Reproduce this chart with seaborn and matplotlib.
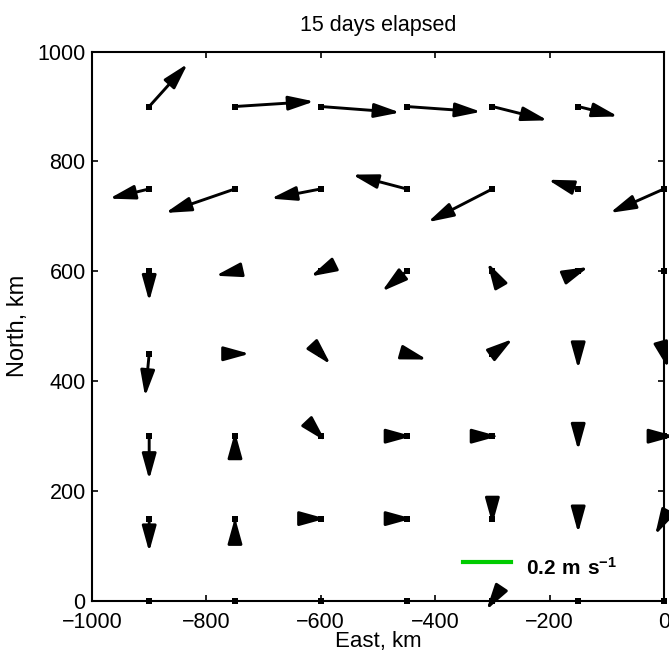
import numpy as np
import pandas as pd
import matplotlib
matplotlib.use('Agg')
import matplotlib.pyplot as plt
import seaborn as sns
from matplotlib import font_manager

# grid of current meters (km)
east = [-900, -750, -600, -450, -300, -150, 0]
north = [900, 750, 600, 450, 300, 150, 0]

# velocity components, m/s (rows follow `north`, columns follow `east`)
u = np.array([
    [0.160, 0.330, 0.330, 0.310, 0.230, 0.166, np.nan],
    [-0.166, -0.290, -0.208, -0.226, -0.269, -0.126, -0.225],
    [0.000, -0.081, -0.043, -0.103, -0.021, 0.043, 0.000],
    [-0.017, 0.061, 0.041, 0.085, 0.085, 0.000, 0.017],
    [0.000, 0.000, 0.020, 0.023, 0.024, 0.000, 0.046],
    [0.000, 0.000, 0.020, 0.023, 0.000, 0.000, -0.037],
    [0.000, 0.000, 0.000, 0.000, -0.025, 0.000, 0.000],
])
v = np.array([
    [0.185, 0.022, -0.026, -0.023, -0.060, -0.043, np.nan],
    [-0.042, -0.104, -0.042, 0.062, -0.144, 0.040, -0.104],
    [-0.130, -0.019, -0.022, -0.087, 0.038, 0.019, 0.000],
    [-0.185, 0.000, -0.046, -0.025, 0.064, -0.065, -0.063],
    [-0.188, 0.019, -0.022, 0.000, 0.000, -0.061, 0.000],
    [-0.144, 0.005, 0.000, 0.000, -0.024, -0.062, -0.071],
    [0.000, 0.000, 0.000, 0.000, -0.039, 0.000, 0.000],
])

ref_speed = 0.2      # m/s, scale bar
km_per_ms = 420      # arrow length scale (km per m/s)

installed = {f.name for f in font_manager.fontManager.ttflist}
narrow = 'Liberation Sans Narrow' in installed
tick_family = 'Liberation Sans Narrow' if narrow else 'Liberation Sans'
tick_size = 17.5 if narrow else 15.5

plt.rcParams['font.family'] = ['Liberation Sans', 'DejaVu Sans']
plt.rcParams['mathtext.fontset'] = 'custom'
plt.rcParams['mathtext.rm'] = 'Liberation Sans'
plt.rcParams['mathtext.bf'] = 'Liberation Sans:bold'

ex, ny = np.meshgrid(east, north)
df = pd.DataFrame({'east': ex.ravel(), 'north': ny.ravel(),
                   'u': u.ravel(), 'v': v.ravel()}).dropna()

fig = plt.figure(figsize=(6.69, 6.62), dpi=100)
ax = fig.add_axes([0.1375, 0.0921, 0.855, 0.830])

# base points (drawn under the arrow heads)
sns.scatterplot(data=df, x='east', y='north', marker='s', s=17, color='k',
                linewidth=0, ax=ax, zorder=2.6, clip_on=False, legend=False)

# arrows
for r in df.itertuples():
    if r.u == 0 and r.v == 0:
        continue
    ax.annotate('', xy=(r.east + r.u * km_per_ms, r.north + r.v * km_per_ms),
                xytext=(r.east, r.north), annotation_clip=False, zorder=4,
                arrowprops=dict(arrowstyle='-|>,head_length=15.5,head_width=4.3',
                                mutation_scale=1, lw=2.1, color='k',
                                shrinkA=0, shrinkB=0))

# scale bar
ax.plot([-352, -352 + ref_speed * km_per_ms], [71, 71], color='#00cc00', lw=3)
ax.text(-242, 47, r'$\mathbf{0.2\ m\ s^{-1}}$', fontsize=15, va='baseline')

ax.set_xlim(-1000, 0)
ax.set_ylim(0, 1000)
ax.set_xticks(range(-1000, 1, 200))
ax.set_yticks(range(0, 1001, 200))
ax.tick_params(direction='in', length=4.3, width=1.2, top=True, right=True,
               labelsize=tick_size, colors='k')
ax.tick_params(axis='x', pad=8)
ax.tick_params(axis='y', pad=4.5)
plt.setp(ax.get_xticklabels() + ax.get_yticklabels(), family=tick_family)
for s in ax.spines.values():
    s.set_linewidth(1.5)
    s.set_color('k')

ax.set_title('15 days elapsed', fontsize=15.5, pad=14.5)
ax.set_xlabel('East, km', fontsize=16)
ax.xaxis.set_label_coords(0.5, -0.055)
ax.set_ylabel('North, km', fontsize=17)
ax.yaxis.set_label_coords(-0.11, 0.5)

fig.savefig('out.png', dpi=100)
